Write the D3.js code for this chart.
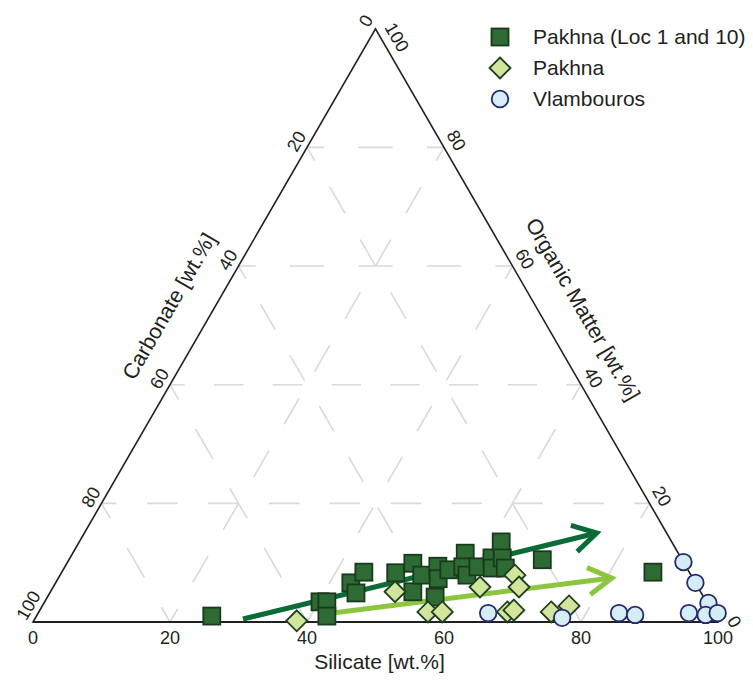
<!DOCTYPE html>
<html>
<head>
<meta charset="utf-8">
<script src="https://cdn.jsdelivr.net/npm/d3@7"></script>
<style>
  html, body { margin: 0; padding: 0; background: #fff; }
  svg { display: block; }
  text { font-family: "Liberation Sans", Arial, Helvetica, sans-serif; fill: #231f20; }
</style>
</head>
<body>
<svg id="chart" width="753" height="682"></svg>
<script>
// ---------------- data ----------------
// each sample: [silicate, organic matter, carbonate] in wt.%
const pakhnaLoc = [
  [25.6, 1.0, 73.4], [40.2, 3.4, 56.4], [41.2, 3.4, 55.4], [42.4, 1.0, 56.6],
  [43.1, 6.6, 50.3], [44.7, 4.9, 50.4], [44.1, 8.4, 47.5], [48.8, 8.3, 42.9],
  [50.5, 9.9, 39.6], [52.9, 5.1, 42.0], [52.8, 7.9, 39.3], [54.4, 9.4, 36.2],
  [55.5, 7.3, 37.2], [56.6, 4.2, 39.2], [56.3, 8.8, 34.9], [57.3, 11.6, 31.1],
  [58.1, 9.3, 32.6], [59.4, 7.9, 32.7], [60.3, 9.3, 30.4], [61.6, 10.8, 27.6],
  [62.5, 9.1, 28.4], [61.6, 13.5, 24.9], [63.1, 10.8, 26.1], [64.4, 9.1, 26.5],
  [69.1, 10.5, 20.4], [86.3, 8.4, 5.3]
];
const pakhna = [
  [38.4, 0.2, 61.4], [50.3, 5.1, 44.6], [56.8, 1.7, 41.5], [58.9, 1.7, 39.4],
  [62.3, 5.9, 31.8], [66.4, 7.9, 25.7], [68.0, 5.9, 26.1], [68.4, 1.7, 29.9],
  [69.2, 2.0, 28.8], [74.8, 1.7, 23.5], [76.9, 2.7, 20.4]
];
const vlambouros = [
  [65.7, 1.5, 32.8], [76.9, 0.7, 22.4], [84.8, 1.5, 13.7], [87.3, 1.2, 11.5],
  [89.9, 10.1, 0.0], [93.4, 6.6, 0.0], [97.0, 3.2, -0.2], [95.0, 1.5, 3.5],
  [97.6, 1.2, 1.2], [99.2, 1.5, -0.7]
];
// trend arrows: [start, end] as [silicate, organic]
const trendLoc = [[30.4, 0.5], [74.8, 15.0]];
const trendPakhna = [[41.9, 1.35], [80.8, 7.4]];

const silicateTicks = [0, 20, 40, 60, 80, 100];
const carbonateTicks = [0, 20, 40, 60, 80, 100];
const organicTicks = [0, 20, 40, 60, 80, 100];
const gridLevels = [20, 40, 60, 80];

const legendLabels = ["Pakhna (Loc 1 and 10)", "Pakhna", "Vlambouros"];
const axisTitles = { silicate: "Silicate [wt.%]", carbonate: "Carbonate [wt.%]", organic: "Organic Matter [wt.%]" };

// ---------------- layout ----------------
const svg = d3.select("#chart");
const x0 = 33, y0 = 622, W = 685, H = W * Math.sqrt(3) / 2;
const xs = d3.scaleLinear().domain([0, 100]).range([x0, x0 + W]);
const ys = d3.scaleLinear().domain([0, 100]).range([y0, y0 - H]);
function pt(s, o) { return [xs(s + o / 2), ys(o)]; }
function ptT(d) { const t = d[0] + d[1] + d[2]; const s = d[0] / t * 100, o = d[1] / t * 100; return pt(s, o); }

const C30 = Math.cos(Math.PI / 6), S30 = 0.5;

// ---------------- grid ----------------
const gridG = svg.append("g");
const gridLines = [];
gridLevels.forEach(v => {
  gridLines.push([pt(0, v), pt(100 - v, v)]);          // organic = v
  gridLines.push([pt(v, 0), pt(v, 100 - v)]);          // silicate = v
  gridLines.push([pt(100 - v, 0), pt(0, 100 - v)]);    // carbonate = v
});
gridLines.forEach(l => {
  const L = Math.hypot(l[1][0] - l[0][0], l[1][1] - l[0][1]);
  const n = Math.max(1, Math.round(L / 62));
  const p = L / n;
  gridG.append("line")
    .attr("x1", l[0][0]).attr("y1", l[0][1]).attr("x2", l[1][0]).attr("y2", l[1][1])
    .attr("stroke", "#d9d9d9").attr("stroke-width", 1.6)
    .attr("stroke-dasharray", `${p / 2} ${p / 2}`)
    .attr("stroke-dashoffset", p / 4);
});

// ---------------- arrows ----------------
function drawArrow(a, color) {
  const s = pt(a[0][0], a[0][1]), e = pt(a[1][0], a[1][1]);
  const ang = Math.atan2(e[1] - s[1], e[0] - s[0]);
  const g = svg.append("g");
  g.append("line").attr("x1", s[0]).attr("y1", s[1]).attr("x2", e[0] - 2 * Math.cos(ang)).attr("y2", e[1] - 2 * Math.sin(ang))
    .attr("stroke", color).attr("stroke-width", 5);
  const arm = 27, ha = 30 * Math.PI / 180;
  const p1 = [e[0] - arm * Math.cos(ang - ha), e[1] - arm * Math.sin(ang - ha)];
  const p2 = [e[0] - arm * Math.cos(ang + ha), e[1] - arm * Math.sin(ang + ha)];
  g.append("path").attr("d", d3.line()([p1, e, p2]))
    .attr("fill", "none").attr("stroke", color).attr("stroke-width", 5)
    .attr("stroke-linejoin", "miter").attr("stroke-miterlimit", 10);
}
drawArrow(trendLoc, "#0b6b36");
drawArrow(trendPakhna, "#8cc63f");

// ---------------- triangle ----------------
const A = pt(0, 0), B = pt(100, 0), Ct = pt(0, 100);
svg.append("path").attr("d", d3.line()([A, B, Ct]) + "Z")
  .attr("fill", "none").attr("stroke", "#231f20").attr("stroke-width", 1.6);
svg.append("line").attr("x1", A[0]).attr("y1", A[1]).attr("x2", B[0]).attr("y2", B[1])
  .attr("stroke", "#231f20").attr("stroke-width", 2);

// ---------------- tick labels ----------------
const tickG = svg.append("g").attr("font-size", 18);
silicateTicks.forEach(v => {
  const p = pt(v, 0);
  tickG.append("text").attr("x", p[0]).attr("y", p[1] + 22).attr("text-anchor", "middle").text(v);
});
// carbonate on left edge, reading upward
carbonateTicks.forEach(v => {
  const p = pt(0, 100 - v);
  const isEnd = (v === 0 || v === 100);
  const nx = -C30, ny = -S30, ux = S30, uy = -C30;
  const off = 6, along = isEnd ? -3 : 0;
  const x = p[0] + nx * off + ux * along, y = p[1] + ny * off + uy * along;
  tickG.append("text").attr("transform", `translate(${x},${y}) rotate(-60)`)
    .attr("text-anchor", isEnd ? "start" : "middle").text(v);
});
// organic on right edge, reading downward
organicTicks.forEach(v => {
  const p = pt(100 - v, v);
  const isEnd = (v === 0 || v === 100);
  const nx = C30, ny = -S30, ux = S30, uy = C30;
  const off = 8, along = isEnd ? 3 : 0;
  const x = p[0] + nx * off + ux * along, y = p[1] + ny * off + uy * along;
  tickG.append("text").attr("transform", `translate(${x},${y}) rotate(60)`)
    .attr("text-anchor", isEnd ? "start" : "middle").text(v);
});

// ---------------- axis titles ----------------
const titleG = svg.append("g").attr("text-anchor", "middle");
{
  const p = pt(50, 0);
  titleG.append("text").attr("font-size", 21).attr("x", p[0] + 4).attr("y", p[1] + 47).text(axisTitles.silicate);
  const q = pt(0, 50);
  titleG.append("text").attr("font-size", 21.5).attr("transform", `translate(${q[0] - C30 * 31 - 2},${q[1] - S30 * 31})  rotate(-60)`).text(axisTitles.carbonate);
  const r = pt(50, 50);
  titleG.append("text").attr("font-size", 21.5).attr("transform", `translate(${r[0] + C30 * 31 + 3},${r[1] - S30 * 31 + 3}) rotate(60)`).text(axisTitles.organic);
}

// ---------------- markers ----------------
const sq = 17;
function squareMark(g, c) {
  g.append("rect").attr("x", c[0] - sq / 2).attr("y", c[1] - sq / 2).attr("width", sq).attr("height", sq)
    .attr("fill", "#2e6a34").attr("stroke", "#1a3a1d").attr("stroke-width", 1.8);
}
function diamondMark(g, c) {
  const r = 10.5;
  g.append("path").attr("d", d3.line()([[c[0], c[1] - r], [c[0] + r, c[1]], [c[0], c[1] + r], [c[0] - r, c[1]]]) + "Z")
    .attr("fill", "#d1e59c").attr("stroke", "#1f3f1f").attr("stroke-width", 1.8);
}
function circleMark(g, c) {
  g.append("circle").attr("cx", c[0]).attr("cy", c[1]).attr("r", 8.3)
    .attr("fill", "#d5edf5").attr("stroke", "#24296e").attr("stroke-width", 1.8);
}
const markG = svg.append("g");
pakhnaLoc.forEach(d => squareMark(markG, ptT(d)));
pakhna.forEach(d => diamondMark(markG, ptT(d)));
vlambouros.forEach(d => circleMark(markG, ptT(d)));

// ---------------- legend ----------------
const legG = svg.append("g").attr("font-size", 21);
const legX = 500, legY = 37, legStep = 31;
const markFns = [squareMark, diamondMark, circleMark];
legendLabels.forEach((lab, i) => {
  const cy = legY + i * legStep;
  markFns[i](legG, [legX, cy]);
  legG.append("text").attr("x", legX + 33).attr("y", cy + 7).text(lab);
});
</script>
</body>
</html>
